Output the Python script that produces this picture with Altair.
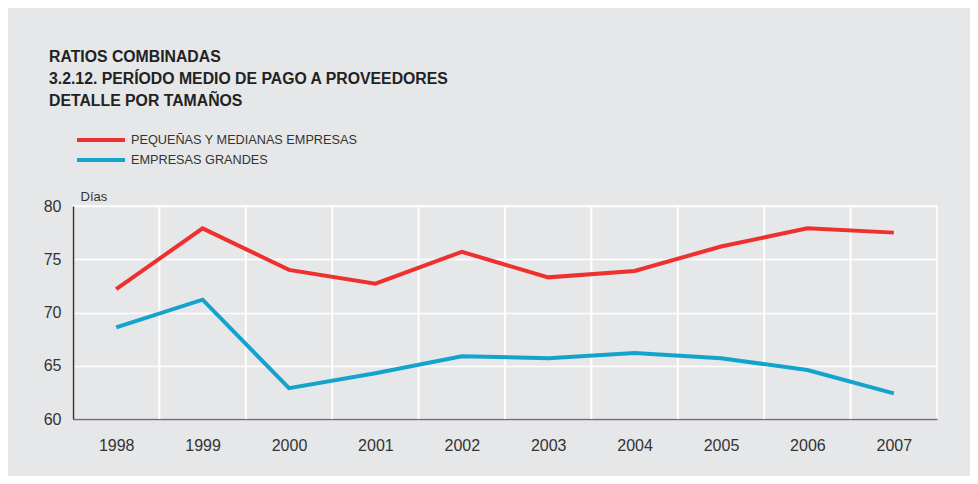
import altair as alt
import pandas as pd

years = [1998, 1999, 2000, 2001, 2002, 2003, 2004, 2005, 2006, 2007]
pymes = [72.2, 77.9, 74.0, 72.7, 75.7, 73.3, 73.9, 76.2, 77.9, 77.5]
grandes = [68.6, 71.2, 62.9, 64.3, 65.9, 65.7, 66.2, 65.7, 64.6, 62.4]
series_names = ["PEQUEÑAS Y MEDIANAS EMPRESAS", "EMPRESAS GRANDES"]
colors = ["#ee302f", "#14a3cc"]
y_ticks = [60, 65, 70, 75, 80]

rows = []
for name, vals in zip(series_names, [pymes, grandes]):
    for yr, v in zip(years, vals):
        rows.append({"year": yr, "serie": name, "dias": v})
df = pd.DataFrame(rows)

# band boundaries between years (for vertical white grid lines)
bounds = pd.DataFrame({"b": [yr - 0.5 for yr in years[1:]]})

FONT = "Liberation Sans"
x_scale = alt.Scale(domain=[years[0] - 0.5, years[-1] + 0.5], nice=False, zero=False)
x_axis = alt.Axis(
    values=years, format="d", grid=False, ticks=False, title=None,
    labelFontSize=16, labelColor="#333333", labelFont=FONT,
    labelPadding=18, domainColor="#6d6e70", domainWidth=1.5,
)

grid = alt.Chart(bounds).mark_rule(color="white", strokeWidth=2).encode(
    x=alt.X("b:Q", scale=x_scale, axis=x_axis)
)

lines = alt.Chart(df).mark_line(strokeWidth=4).encode(
    x=alt.X("year:Q", scale=x_scale, axis=x_axis),
    y=alt.Y(
        "dias:Q",
        scale=alt.Scale(domain=[60, 80], nice=False, zero=False),
        axis=alt.Axis(
            values=y_ticks, grid=True, gridColor="white", gridWidth=1.5,
            ticks=False, title="Días", titleAngle=0, titleAlign="left",
            titleBaseline="alphabetic", titleX=7, titleY=-6, titleFontSize=13,
            titleFontWeight="normal", titleColor="#333333", titleFont=FONT,
            labelFontSize=16, labelColor="#333333", labelFont=FONT,
            labelPadding=12, domainColor="#333333", domainWidth=1.5,
        ),
    ),
    color=alt.Color(
        "serie:N",
        scale=alt.Scale(domain=series_names, range=colors),
        sort=series_names,
        legend=alt.Legend(
            title=None, orient="none", legendX=2, legendY=-73,
            symbolType="stroke", symbolSize=2304, symbolStrokeWidth=4,
            clipHeight=14, rowPadding=6, labelOffset=4, labelLimit=400,
            labelFontSize=12.7, labelColor="#333333", labelFont=FONT,
        ),
    ),
)

chart = (
    alt.layer(grid, lines)
    .properties(
        width=864,
        height=213,
        autosize=alt.AutoSizeParams(type="none"),
        padding={"left": 65, "top": 198, "right": 33, "bottom": 57},
        background="#e6e7e8",
        title=alt.TitleParams(
            text=["RATIOS COMBINADAS",
                  "3.2.12. PERÍODO MEDIO DE PAGO A PROVEEDORES",
                  "DETALLE POR TAMAÑOS"],
            anchor="start", frame="group", dx=-24, fontSize=15.8,
            font=FONT, fontWeight="bold", color="#222222", lineHeight=22,
            offset=23,
        ),
    )
    .configure_view(stroke="white", strokeWidth=1.5, fill="#e6e7e8")
)

chart.save("out.html", embed_options={"renderer": "svg", "actions": False})
